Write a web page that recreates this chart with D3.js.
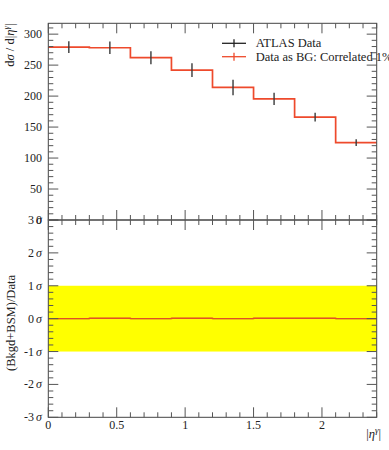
<!DOCTYPE html>
<html>
<head>
<meta charset="utf-8">
<script src="https://cdn.jsdelivr.net/npm/d3@7"></script>
<style>
  body { margin: 0; background: #fff; }
  text { font-family: "Liberation Serif", "DejaVu Serif", serif; fill: #222; }
</style>
</head>
<body>
<svg class="chart" width="389" height="450"></svg>
<script>
// bin edges in |eta^gamma|
const binEdges = [0, 0.3, 0.6, 0.9, 1.2, 1.5, 1.8, 2.1, 2.4];
// ATLAS data, d sigma / d|eta|
const dataVals = [279, 278, 262, 242, 214, 195.5, 166, 125];
const dataErrs = [9.5, 10, 10.5, 11, 12.5, 9.7, 7, 5.4];
// "Data as BG" prediction (identical to data)
const bgVals = [279, 278, 262, 242, 214, 195.5, 166, 125];
// ratio panel, in units of sigma
const ratioVals = [0, 0.01, 0, 0.01, 0, 0.01, 0.01, 0];
const ratioBand = [-1, 1];

const topTicks = [0, 50, 100, 150, 200, 250, 300];
const sigmaTicks = [-3, -2, -1, 0, 1, 2, 3];
const xTicks = [0, 0.5, 1, 1.5, 2];

const margins = {left: 48.3, right: 376.7, top: 23.3, mid: 220, bottom: 417.3};
const svg = d3.select('.chart');

const x = d3.scaleLinear().domain([0, 2.4]).range([margins.left, margins.right]);
const yTop = d3.scaleLinear().domain([0, 317.5]).range([margins.mid, margins.top]);
const yBot = d3.scaleLinear().domain([-3, 3]).range([margins.bottom, margins.mid]);

const red = '#ee4a2c';
const tickCol = '#555';

// yellow 1 sigma band
svg.append('rect')
    .attr('x', x(0))
    .attr('width', x(2.4) - x(0))
    .attr('y', yBot(ratioBand[1]))
    .attr('height', yBot(ratioBand[0]) - yBot(ratioBand[1]))
    .attr('fill', '#ffff00');

function stepPoints(vals) {
    const pts = vals.map((v, i) => [binEdges[i], v]);
    pts.push([binEdges[binEdges.length - 1], vals[vals.length - 1]]);
    return pts;
}

// red histograms
const stepTop = d3.line().curve(d3.curveStepAfter).x(d => x(d[0])).y(d => yTop(d[1]));
svg.append('path')
    .attr('d', stepTop(stepPoints(bgVals)))
    .attr('fill', 'none').attr('stroke', red).attr('stroke-width', 1.7);

const stepBot = d3.line().curve(d3.curveStepAfter).x(d => x(d[0])).y(d => yBot(d[1]));
svg.append('path')
    .attr('d', stepBot(stepPoints(ratioVals)))
    .attr('fill', 'none').attr('stroke', '#6a2a10').attr('stroke-width', 0.8);
svg.append('path')
    .attr('d', stepBot(stepPoints(ratioVals)))
    .attr('fill', 'none').attr('stroke', red).attr('stroke-width', 1.4).attr('opacity', 0.85);

// data error bars
const mids = binEdges.slice(0, -1).map((e, i) => (e + binEdges[i + 1]) / 2);
svg.selectAll('.err')
    .data(dataVals)
    .enter().append('line')
    .attr('x1', (d, i) => x(mids[i]))
    .attr('x2', (d, i) => x(mids[i]))
    .attr('y1', (d, i) => yTop(d - dataErrs[i]))
    .attr('y2', (d, i) => yTop(d + dataErrs[i]))
    .attr('stroke', '#3a3a3a').attr('stroke-width', 1.4);

// frames
[[margins.top, margins.mid], [margins.mid, margins.bottom]].forEach(([t, b]) => {
    svg.append('rect')
        .attr('x', margins.left).attr('y', t)
        .attr('width', margins.right - margins.left).attr('height', b - t)
        .attr('fill', 'none').attr('stroke', '#444').attr('stroke-width', 1);
});

// tick helpers
function yTicks(scale, major, minor) {
    const g = svg.append('g').attr('stroke', tickCol).attr('stroke-width', 1);
    minor.forEach(v => {
        const len = major.includes(v) ? 10 : 5;
        const yy = scale(v);
        g.append('line').attr('x1', margins.left).attr('x2', margins.left + len).attr('y1', yy).attr('y2', yy);
        g.append('line').attr('x1', margins.right).attr('x2', margins.right - len).attr('y1', yy).attr('y2', yy);
    });
}
function xTicksFor(t, b) {
    const g = svg.append('g').attr('stroke', tickCol).attr('stroke-width', 1);
    d3.range(0, 25).forEach(k => {
        const v = k / 10;
        const len = k % 5 === 0 ? 10 : 5;
        const xx = x(v);
        g.append('line').attr('x1', xx).attr('x2', xx).attr('y1', b).attr('y2', b - len);
        g.append('line').attr('x1', xx).attr('x2', xx).attr('y1', t).attr('y2', t + len);
    });
}

yTicks(yTop, topTicks, d3.range(0, 320, 10));
yTicks(yBot, sigmaTicks, d3.range(-15, 16).map(k => k / 5));
xTicksFor(margins.top, margins.mid);
xTicksFor(margins.mid, margins.bottom);

// tick labels
svg.selectAll('.ytl')
    .data(topTicks)
    .enter().append('text')
    .attr('x', 42).attr('y', d => yTop(d) + 4)
    .attr('text-anchor', 'end')
    .style('font-size', '12px')
    .text(d => d);

const sig = svg.selectAll('.stl')
    .data(sigmaTicks)
    .enter().append('text')
    .attr('x', 42).attr('y', d => yBot(d) + 4)
    .attr('text-anchor', 'end')
    .style('font-size', '12px');
sig.append('tspan').text(d => (d < 0 ? '-' : '') + Math.abs(d));
sig.append('tspan').attr('dx', 2).style('font-style', 'italic').text('σ');

svg.selectAll('.xtl')
    .data(xTicks)
    .enter().append('text')
    .attr('x', d => x(d)).attr('y', 429)
    .attr('text-anchor', 'middle')
    .style('font-size', '12px')
    .text(d => d);

// axis labels
const xl = svg.append('text')
    .attr('x', 381).attr('y', 438)
    .attr('text-anchor', 'end')
    .style('font-size', '12.5px');
xl.append('tspan').text('|');
xl.append('tspan').style('font-style', 'italic').text('η');
xl.append('tspan').attr('dy', -5).style('font-size', '9px').style('font-style', 'italic').text('γ');
xl.append('tspan').attr('dy', 5).text('|');

const yl = svg.append('text')
    .attr('transform', 'translate(14, 23.5) rotate(-90)')
    .attr('text-anchor', 'end')
    .style('font-size', '12.5px');
yl.append('tspan').text('d');
yl.append('tspan').style('font-style', 'italic').text('σ');
yl.append('tspan').text(' / d|');
yl.append('tspan').style('font-style', 'italic').text('η');
yl.append('tspan').attr('dy', -5).style('font-size', '9px').style('font-style', 'italic').text('γ');
yl.append('tspan').attr('dy', 5).text('|');

svg.append('text')
    .attr('transform', 'translate(15, 323) rotate(-90)')
    .attr('text-anchor', 'middle')
    .style('font-size', '12.5px')
    .text('(Bkgd+BSM)/Data');

// legend
const legend = [
    {label: 'ATLAS Data', color: '#222'},
    {label: 'Data as BG: Correlated 1%', color: red}
];
const lg = svg.selectAll('.leg').data(legend).enter().append('g')
    .attr('transform', (d, i) => 'translate(0,' + (43.3 + i * 13.4) + ')');
lg.append('line').attr('x1', 222).attr('x2', 246).attr('y1', 0).attr('y2', 0)
    .attr('stroke', d => d.color).attr('stroke-width', 1.3);
lg.append('line').attr('x1', 234).attr('x2', 234).attr('y1', -4).attr('y2', 4)
    .attr('stroke', d => d.color).attr('stroke-width', 1.3);
lg.append('text').attr('x', 255.7).attr('y', 4)
    .style('font-size', '12.5px')
    .text(d => d.label);
</script>
</body>
</html>
